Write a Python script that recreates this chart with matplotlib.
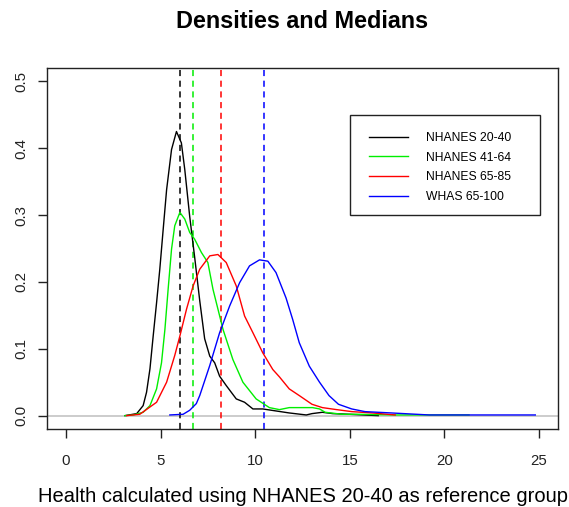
import matplotlib
matplotlib.use("Agg")
import matplotlib.pyplot as plt
from matplotlib.patches import Rectangle

plt.rcParams['font.family'] = ['Liberation Sans', 'DejaVu Sans']

# Density curves
x_2040 = [3.12, 3.74, 4.08, 4.26, 4.44, 4.61, 4.79, 4.96, 5.14, 5.32, 5.58, 5.84, 6.1, 6.28, 6.54,
          6.81, 7.07, 7.33, 7.6, 7.86, 8.12, 8.47, 9.0, 9.44, 9.88, 10.4, 11.1, 11.8, 12.7, 13.0,
          13.55, 14.1, 15.0, 16.5]
y_2040 = [0.0, 0.003, 0.015, 0.035, 0.07, 0.119, 0.169, 0.219, 0.279, 0.338, 0.398, 0.425, 0.408, 0.368, 0.298,
          0.235, 0.172, 0.115, 0.089, 0.079, 0.059, 0.045, 0.025, 0.02, 0.01, 0.01, 0.007, 0.004, 0.001, 0.003,
          0.005, 0.003, 0.002, 0.0]

x_4164 = [3.12, 3.56, 4.08, 4.44, 4.79, 5.05, 5.23, 5.4, 5.58, 5.75, 6.02, 6.28, 6.54, 6.8, 7.16, 7.5,
          7.77, 8.3, 8.82, 9.35, 10.05, 10.75, 11.28, 11.8, 12.33, 13.03, 13.4, 13.7, 14.6, 15.5, 17.4, 21.3]
y_4164 = [0.0, 0.001, 0.005, 0.015, 0.04, 0.079, 0.129, 0.189, 0.249, 0.284, 0.304, 0.294, 0.274, 0.264, 0.244, 0.229,
          0.189, 0.129, 0.084, 0.05, 0.025, 0.012, 0.009, 0.012, 0.012, 0.012, 0.01, 0.005, 0.002, 0.002, 0.001, 0.001]

x_6585 = [3.21, 3.9, 4.79, 5.32, 5.75, 6.02, 6.37, 6.72, 7.07, 7.6, 8.03, 8.47, 9.0, 9.44, 9.88,
          10.4, 10.93, 11.28, 11.8, 12.33, 13.0, 13.55, 14.3, 15.1, 16.2, 17.4]
y_6585 = [0.0, 0.002, 0.02, 0.05, 0.09, 0.119, 0.159, 0.194, 0.219, 0.239, 0.241, 0.229, 0.194, 0.149, 0.124,
          0.094, 0.069, 0.058, 0.04, 0.03, 0.017, 0.012, 0.009, 0.006, 0.004, 0.001]

x_whas = [5.49, 6.19, 6.54, 6.89, 7.07, 7.6, 8.12, 8.65, 9.18, 9.7, 10.23, 10.67, 11.1, 11.63, 11.98,
          12.33, 12.86, 13.4, 13.9, 14.4, 15.1, 15.8, 17.2, 19.2, 24.8]
y_whas = [0.001, 0.002, 0.008, 0.018, 0.03, 0.075, 0.124, 0.164, 0.199, 0.224, 0.233, 0.231, 0.214, 0.176, 0.144,
          0.109, 0.074, 0.05, 0.03, 0.017, 0.01, 0.006, 0.004, 0.001, 0.001]

labels = ["NHANES 20-40", "NHANES 41-64", "NHANES 65-85", "WHAS 65-100"]
colors = ["black", "#00ee00", "red", "blue"]
medians = [6.02, 6.7, 8.21, 10.45]

W, H = 569, 507
fig = plt.figure(figsize=(W / 100, H / 100), dpi=100)
ax = fig.add_axes([47 / W, 1 - 429 / H, (558 - 47) / W, (429 - 68) / H])

ax.axhline(0, color="#bebebe", lw=1.1, zorder=1)
series = [(x_2040, y_2040), (x_4164, y_4164), (x_6585, y_6585), (x_whas, y_whas)]
for (xs, ys), c, lab in zip(series, colors, labels):
    ax.plot(xs, ys, color=c, lw=1.0, label=lab, zorder=3)
for m, c in zip(medians, colors):
    ax.axvline(m, color=c, lw=1.1, ls=(0, (4, 3)), zorder=2)

ax.set_xlim(-1, 26)
ax.set_ylim(-0.02, 0.52)
ax.set_xticks([0, 5, 10, 15, 20, 25])
ax.set_yticks([0.0, 0.1, 0.2, 0.3, 0.4, 0.5])
ax.set_yticklabels(["0.0", "0.1", "0.2", "0.3", "0.4", "0.5"], rotation=90, va="center")
ax.tick_params(direction="out", length=6.2, width=1, labelsize=10.8, colors="#222222")
ax.tick_params(axis="x", pad=11.5)
ax.tick_params(axis="y", pad=7.5)
for s in ax.spines.values():
    s.set_linewidth(1.0)
    s.set_color("#222222")

fig.text(0.5 * (47 + 558) / W, 1 - 22 / H, "Densities and Medians", fontsize=16.8,
         fontweight="bold", ha="center", va="center")
ax.set_xlabel("Health calculated using NHANES 20-40 as reference group", fontsize=14.5, va="center")
ax.xaxis.set_label_coords(0.5, (429 - 496) / (429 - 68))

# legend: frame drawn as a rectangle, entries via ax.legend
fig.patches.append(Rectangle((350 / W, 1 - 215 / H), 190 / W, 100 / H, transform=fig.transFigure,
                             fill=False, edgecolor="#222222", lw=1.0))
leg = ax.legend(loc="upper left", bbox_to_anchor=(369 / W, 1 - 132 / H),
                bbox_transform=fig.transFigure, fontsize=8.7, frameon=False,
                handlelength=3.2, handletextpad=1.5, borderpad=0, labelspacing=0.635, borderaxespad=0)

fig.savefig("out.png", dpi=100)
